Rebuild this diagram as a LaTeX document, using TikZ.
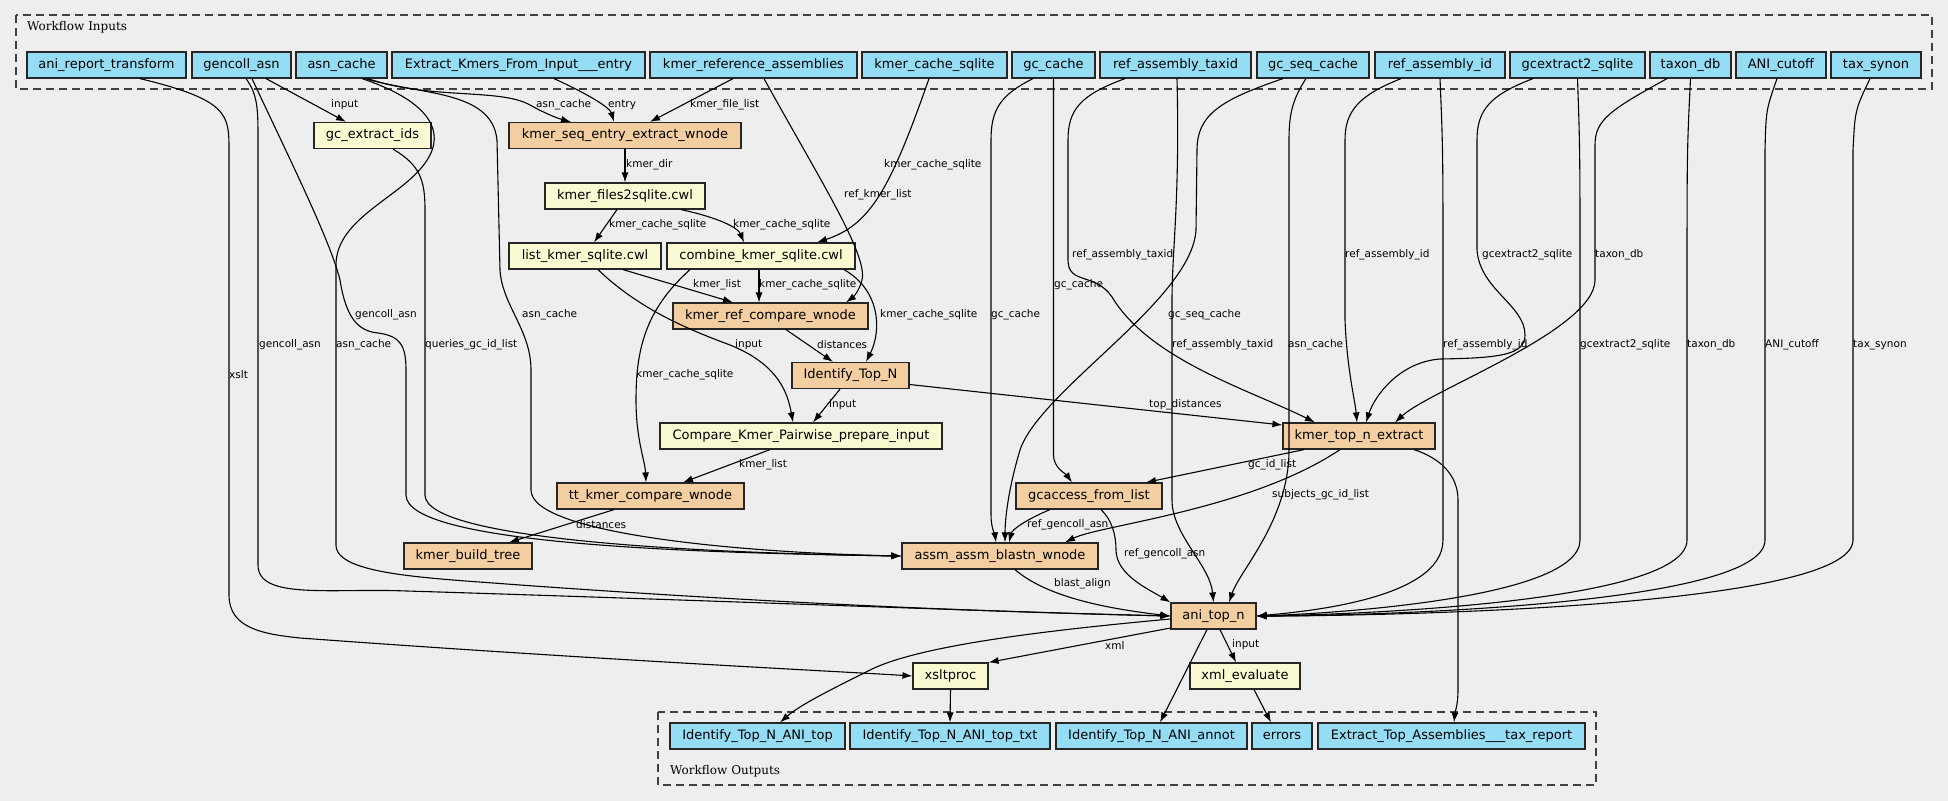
\documentclass[tikz,border=0pt]{standalone}
\usepackage{fontspec}
\setmainfont{DejaVu Sans}
\newfontfamily\clusterfont{DejaVu Serif}
\usetikzlibrary{arrows.meta,calc}
\definecolor{canvas}{RGB}{238,238,238}
\definecolor{inblue}{RGB}{148,221,244}
\definecolor{stepor}{RGB}{243,206,161}
\definecolor{toolyl}{RGB}{250,250,210}
\tikzset{
  box/.style={draw=black!85, line width=1.2pt, minimum height=26pt, inner xsep=4pt, inner ysep=0pt, font=\fontsize{13}{15}\selectfont},
  inp/.style={box, fill=inblue},
  wfstep/.style={box, fill=stepor},
  tool/.style={box, fill=toolyl},
  edge/.style={line width=1.1pt, -{Latex[length=10pt,width=7pt]}},
  lbl/.style={anchor=west, inner sep=0pt, font=\fontsize{10.5}{12}\selectfont},
  cluster/.style={draw=black!75, line width=1.2pt, dash pattern=on 8pt off 5pt},
  clabel/.style={anchor=west, inner sep=0pt, font=\clusterfont\fontsize{12}{14}\selectfont}
}
\begin{document}
\begin{tikzpicture}[x=1pt, y=-1pt]
	\useasboundingbox (0,0) rectangle (1948,801);
	\fill[canvas] (0,0) rectangle (1948,801);
	% clusters
	\draw[cluster] (16,15) rectangle (1932,89);
	\node[clabel] (inlabel) at (27,27) {Workflow Inputs};
	\draw[cluster] (658,712) rectangle (1596,785);
	\node[clabel] (outlabel) at (670,771) {Workflow Outputs};
	% inputs
	\node[inp, minimum width=159pt] (art) at (106.5,65) {ani\_report\_transform};
	\node[inp, minimum width=99pt] (gca) at (241.5,65) {gencoll\_asn};
	\node[inp, minimum width=91pt] (asc) at (341.5,65) {asn\_cache};
	\node[inp, minimum width=253pt] (eki) at (518.5,65) {Extract\_Kmers\_From\_Input\_\_\_entry};
	\node[inp, minimum width=207pt] (kra) at (753.5,65) {kmer\_reference\_assemblies};
	\node[inp, minimum width=145pt] (kcs) at (934.5,65) {kmer\_cache\_sqlite};
	\node[inp, minimum width=83pt] (gcc) at (1053.5,65) {gc\_cache};
	\node[inp, minimum width=151pt] (rat) at (1175.5,65) {ref\_assembly\_taxid};
	\node[inp, minimum width=112pt] (gsc) at (1313,65) {gc\_seq\_cache};
	\node[inp, minimum width=130pt] (rai) at (1440,65) {ref\_assembly\_id};
	\node[inp, minimum width=135pt] (gcx) at (1577.5,65) {gcextract2\_sqlite};
	\node[inp, minimum width=81pt] (txd) at (1690.5,65) {taxon\_db};
	\node[inp, minimum width=90pt] (anic) at (1781,65) {ANI\_cutoff};
	\node[inp, minimum width=90pt] (tsy) at (1876,65) {tax\_synon};
	% steps
	\node[tool, minimum width=117pt] (gcids) at (372.5,135.5) {gc\_extract\_ids};
	\node[wfstep, minimum width=232pt] (kseq) at (625,135.5) {kmer\_seq\_entry\_extract\_wnode};
	\node[tool, minimum width=160pt] (kf2s) at (625,196) {kmer\_files2sqlite.cwl};
	\node[tool, minimum width=152pt] (lks) at (585,256) {list\_kmer\_sqlite.cwl};
	\node[tool, minimum width=188pt] (cks) at (761,256) {combine\_kmer\_sqlite.cwl};
	\node[wfstep, minimum width=195pt] (krc) at (770.5,316) {kmer\_ref\_compare\_wnode};
	\node[wfstep, minimum width=117pt] (itn) at (850.5,375.5) {Identify\_Top\_N};
	\node[tool, minimum width=282pt] (ckp) at (801,436) {Compare\_Kmer\_Pairwise\_prepare\_input};
	\node[wfstep, minimum width=152pt] (ktn) at (1359,436) {kmer\_top\_n\_extract};
	\node[wfstep, minimum width=187pt] (ttk) at (650.5,496) {tt\_kmer\_compare\_wnode};
	\node[wfstep, minimum width=146pt] (gcal) at (1089,496) {gcaccess\_from\_list};
	\node[wfstep, minimum width=128pt] (kbt) at (468,556) {kmer\_build\_tree};
	\node[wfstep, minimum width=196pt] (assm) at (1000,556) {assm\_assm\_blastn\_wnode};
	\node[wfstep, minimum width=85pt] (atn) at (1213.5,616) {ani\_top\_n};
	\node[tool, minimum width=75pt] (xslt) at (950.5,676) {xsltproc};
	\node[tool, minimum width=110pt] (xmle) at (1245,676) {xml\_evaluate};
	% outputs
	\node[inp, minimum width=175pt] (otop) at (757.5,736) {Identify\_Top\_N\_ANI\_top};
	\node[inp, minimum width=200pt] (otxt) at (950,736) {Identify\_Top\_N\_ANI\_top\_txt};
	\node[inp, minimum width=191pt] (oann) at (1151.5,736) {Identify\_Top\_N\_ANI\_annot};
	\node[inp, minimum width=60pt] (oerr) at (1282,736) {errors};
	\node[inp, minimum width=267pt] (otax) at (1451.5,736) {Extract\_Top\_Assemblies\_\_\_tax\_report};
	% edges from inputs
	\draw[edge] ($(art.south)+(33.5,0)$) .. controls (229,100) and (229,115) .. (229,150) -- (229,595) .. controls (229,628) and (262,634) .. (300,638) .. controls (600,660) and (850,672) .. (xslt.west);
	\draw[edge] ($(gca.south)+(24.5,0)$) -- ($(gcids.north)+(-26.5,0)$);
	\draw[edge] ($(gca.south)+(4.5,0)$) .. controls (258,95) and (258,110) .. (258,140) -- (258,565) .. controls (258,600) and (330,588) .. (407,591) .. controls (700,600) and (1000,612) .. (atn.west);
	\draw[edge] ($(gca.south)+(10.5,0)$) .. controls (290,160) and (330,240) .. (340,280) .. controls (346,318) and (358,331) .. (378,333) .. controls (400,336) and (406,345) .. (406,370) -- (406,495) .. controls (406,545) and (700,553) .. (assm.west);
	\draw[edge] ($(gcids.south)+(20.5,0)$) .. controls (420,165) and (425,180) .. (425,210) -- (425,495) .. controls (425,540) and (700,553) .. (assm.west);
	\draw[edge] ($(asc.south)+(26.5,0)$) .. controls (430,100) and (500,88) .. (530,105) .. controls (548,115) and (560,119) .. ($(kseq.north)+(-54,0)$);
	\draw[edge] ($(asc.south)+(20.5,0)$) .. controls (420,98) and (445,125) .. (430,155) .. controls (410,195) and (336,215) .. (336,265) -- (336,545) .. controls (336,575) and (430,578) .. (520,585) .. controls (800,605) and (1000,612) .. (atn.west);
	\draw[edge] ($(asc.south)+(23.5,0)$) .. controls (420,95) and (492,90) .. (497,140) -- (500,270) .. controls (502,305) and (531,330) .. (531,370) -- (531,490) .. controls (531,535) and (750,553) .. (assm.west);
	\draw[edge] ($(eki.south)+(35.5,0)$) .. controls (590,95) and (610,108) .. ($(kseq.north)+(-11,0)$);
	\draw[edge] ($(kra.south)+(-20.5,0)$) -- ($(kseq.north)+(25,0)$);
	\draw[edge] ($(kra.south)+(10.5,0)$) .. controls (820,180) and (868,255) .. (862,280) .. controls (859,292) and (852,298) .. ($(krc.north)+(75.5,0)$);
	\draw[edge] ($(kcs.south)+(-5.5,0)$) .. controls (890,190) and (870,225) .. ($(cks.north)+(56,0)$);
	\draw[edge] ($(gcc.south)+(-20.5,0)$) .. controls (1000,95) and (991,110) .. (991,140) -- (991,515) .. controls (991,528) and (995,535) .. ($(assm.north)+(-4,0)$);
	\draw[edge] (gcc.south) -- (1053.5,455) .. controls (1053.5,468) and (1066,474) .. ($(gcal.north)+(-17,0)$);
	\draw[edge] ($(rat.south)+(-50.5,0)$) .. controls (1080,95) and (1068,110) .. (1068,140) -- (1068,260) .. controls (1068,285) and (1095,272) .. (1112,297) .. controls (1150,360) and (1250,390) .. ($(ktn.north)+(-44,0)$);
	\draw[edge] ($(rat.south)+(1.5,0)$) .. controls (1180,200) and (1172,250) .. (1172,300) -- (1172,500) .. controls (1172,535) and (1210,565) .. (atn.north);
	\draw[edge] ($(gsc.south)+(-30,0)$) .. controls (1220,100) and (1197,115) .. (1197,150) -- (1196,230) .. controls (1192,300) and (1040,390) .. (1020,450) .. controls (1008,490) and (1005,520) .. ($(assm.north)+(5,0)$);
	\draw[edge] ($(gsc.south)+(-7,0)$) .. controls (1292,100) and (1289,115) .. (1289,140) -- (1289,450) .. controls (1289,520) and (1240,570) .. ($(atn.north)+(15.5,0)$);
	\draw[edge] ($(rai.south)+(-39,0)$) .. controls (1360,95) and (1345,110) .. (1345,140) -- (1345,320) .. controls (1347,370) and (1355,400) .. ($(ktn.north)+(-2,0)$);
	\draw[edge] (rai.south) .. controls (1443,150) .. (1443,300) -- (1443,540) .. controls (1443,600) and (1300,612) .. (atn.east);
	\draw[edge] ($(gcx.south)+(-44.5,0)$) .. controls (1490,95) and (1477,110) .. (1477,140) -- (1477,250) .. controls (1480,290) and (1525,305) .. (1525,335) .. controls (1525,355) and (1500,358) .. (1440,359) .. controls (1400,362) and (1375,395) .. ($(ktn.north)+(7,0)$);
	\draw[edge] (gcx.south) .. controls (1580,150) .. (1580,300) -- (1580,540) .. controls (1580,600) and (1320,614) .. (atn.east);
	\draw[edge] ($(txd.south)+(-23.5,0)$) .. controls (1610,110) and (1595,120) .. (1595,145) -- (1595,280) .. controls (1595,330) and (1430,390) .. ($(ktn.north)+(36,0)$);
	\draw[edge] (txd.south) .. controls (1687,150) .. (1687,300) -- (1687,540) .. controls (1687,605) and (1330,615) .. (atn.east);
	\draw[edge] ($(anic.south)+(-4,0)$) .. controls (1766,110) .. (1765,150) -- (1765,540) .. controls (1765,608) and (1340,616) .. (atn.east);
	\draw[edge] ($(tsy.south)+(-6,0)$) .. controls (1855,110) .. (1853,150) -- (1853,540) .. controls (1853,610) and (1350,616) .. (atn.east);
	% edges between steps
	\draw[edge] (kseq.south) -- (kf2s.north);
	\draw[edge] ($(kf2s.south)+(-8,0)$) -- ($(lks.north)+(9,0)$);
	\draw[edge] ($(kf2s.south)+(56,0)$) .. controls (720,218) and (738,228) .. ($(cks.north)+(-17,0)$);
	\draw[edge] ($(lks.south)+(38,0)$) -- ($(krc.north)+(-37.5,0)$);
	\draw[edge] ($(lks.south)+(13,0)$) .. controls (640,310) and (690,330) .. (730,345) .. controls (780,365) and (788,395) .. ($(ckp.north)+(-8,0)$);
	\draw[edge] ($(cks.south)+(-2,0)$) -- ($(krc.north)+(-11.5,0)$);
	\draw[edge] ($(cks.south)+(83,0)$) .. controls (880,290) and (882,330) .. ($(itn.north)+(15.5,0)$);
	\draw[edge] ($(cks.south)+(-71,0)$) .. controls (645,310) and (636,350) .. (636,400) .. controls (636,440) and (645,460) .. ($(ttk.north)+(-4.5,0)$);
	\draw[edge] ($(krc.south)+(15.5,0)$) -- ($(itn.north)+(-17.5,0)$);
	\draw[edge] ($(itn.south)+(-10.5,0)$) -- ($(ckp.north)+(12,0)$);
	\draw[edge] ($(itn.east)+(0,9)$) -- ($(ktn.west)+(0,-11)$);
	\draw[edge] ($(ckp.south)+(-31,0)$) -- ($(ttk.north)+(32.5,0)$);
	\draw[edge] ($(ttk.south)+(-36.5,0)$) -- ($(kbt.north)+(41,0)$);
	\draw[edge] ($(ktn.south)+(-55,0)$) -- ($(gcal.north)+(57,0)$);
	\draw[edge] ($(ktn.south)+(-19,0)$) .. controls (1250,510) and (1100,525) .. ($(assm.north)+(65,0)$);
	\draw[edge] ($(ktn.south)+(55,0)$) .. controls (1440,458) and (1458,475) .. (1458,500) -- (1458,690) .. controls (1458,705) and (1455,712) .. ($(otax.north)+(2.5,0)$);
	\draw[edge] ($(gcal.south)+(-39,0)$) .. controls (1025,520) and (1012,530) .. ($(assm.north)+(9,0)$);
	\draw[edge] ($(gcal.south)+(12,0)$) .. controls (1112,520) and (1116,535) .. (1116,550) .. controls (1116,575) and (1150,590) .. (atn.north west);
	\draw[edge] ($(assm.south)+(15,0)$) .. controls (1050,600) and (1120,610) .. (atn.west);
	\draw[edge] ($(atn.west)+(0,12)$) -- (xslt.north east);
	\draw[edge] ($(atn.south)+(6.5,0)$) -- ($(xmle.north)+(-9,0)$);
	\draw[edge] ($(atn.west)+(0,3)$) .. controls (1050,630) and (920,645) .. (870,670) .. controls (830,690) and (800,705) .. ($(otop.north)+(22.5,0)$);
	\draw[edge] ($(atn.south)+(-6.5,0)$) -- ($(oann.north)+(8.5,0)$);
	\draw[edge] (xslt.south) -- (otxt.north);
	\draw[edge] ($(xmle.south)+(9,0)$) -- ($(oerr.north)+(-11,0)$);
	% edge labels
	\node[lbl] (lgcin) at (331,105) {input};
	\node[lbl] (lkasn) at (536,105) {asn\_cache};
	\node[lbl] (lkent) at (608,105) {entry};
	\node[lbl] (lkfl) at (690,105) {kmer\_file\_list};
	\node[lbl] (lkdir) at (626,165) {kmer\_dir};
	\node[lbl] (lcks) at (884,165) {kmer\_cache\_sqlite};
	\node[lbl] (lrkl) at (844,195) {ref\_kmer\_list};
	\node[lbl] (llks) at (609,225) {kmer\_cache\_sqlite};
	\node[lbl] (lcks2) at (733,225) {kmer\_cache\_sqlite};
	\node[lbl] (lrat) at (1072,255) {ref\_assembly\_taxid};
	\node[lbl] (lrai) at (1345,255) {ref\_assembly\_id};
	\node[lbl] (lgcx) at (1482,255) {gcextract2\_sqlite};
	\node[lbl] (ltxd) at (1595,255) {taxon\_db};
	\node[lbl] (lkl) at (693,285) {kmer\_list};
	\node[lbl] (lkrc) at (759,285) {kmer\_cache\_sqlite};
	\node[lbl] (lgcc) at (1054,285) {gc\_cache};
	\node[lbl] (lgca) at (355,315) {gencoll\_asn};
	\node[lbl] (lasc) at (522,315) {asn\_cache};
	\node[lbl] (litn) at (880,315) {kmer\_cache\_sqlite};
	\node[lbl] (lgcc2) at (991,315) {gc\_cache};
	\node[lbl] (lgsc) at (1168,315) {gc\_seq\_cache};
	\node[lbl] (lgca2) at (259,345) {gencoll\_asn};
	\node[lbl] (lasc2) at (336,345) {asn\_cache};
	\node[lbl] (lqgc) at (425,345) {queries\_gc\_id\_list};
	\node[lbl] (lckin) at (735,345) {input};
	\node[lbl] (ldist) at (817,345) {distances};
	\node[lbl] (lrat2) at (1172,345) {ref\_assembly\_taxid};
	\node[lbl] (lasc3) at (1288,345) {asn\_cache};
	\node[lbl] (lrai2) at (1443,345) {ref\_assembly\_id};
	\node[lbl] (lgcx2) at (1580,345) {gcextract2\_sqlite};
	\node[lbl] (ltxd2) at (1687,345) {taxon\_db};
	\node[lbl] (lani) at (1765,345) {ANI\_cutoff};
	\node[lbl] (ltsy) at (1853,345) {tax\_synon};
	\node[lbl] (lxslt) at (229,375) {xslt};
	\node[lbl] (lttk) at (636,375) {kmer\_cache\_sqlite};
	\node[lbl] (lckin2) at (829,405) {input};
	\node[lbl] (ltop) at (1149,405) {top\_distances};
	\node[lbl] (lkl2) at (739,465) {kmer\_list};
	\node[lbl] (lgid) at (1248,465) {gc\_id\_list};
	\node[lbl] (lsub) at (1272,495) {subjects\_gc\_id\_list};
	\node[lbl] (ldist2) at (576,525) {distances};
	\node[lbl] (lrga) at (1027,525) {ref\_gencoll\_asn};
	\node[lbl] (lrga2) at (1124,554) {ref\_gencoll\_asn};
	\node[lbl] (lbla) at (1054,584) {blast\_align};
	\node[lbl] (lxml) at (1105,645) {xml};
	\node[lbl] (lxin) at (1232,645) {input};
\end{tikzpicture}
\end{document}
